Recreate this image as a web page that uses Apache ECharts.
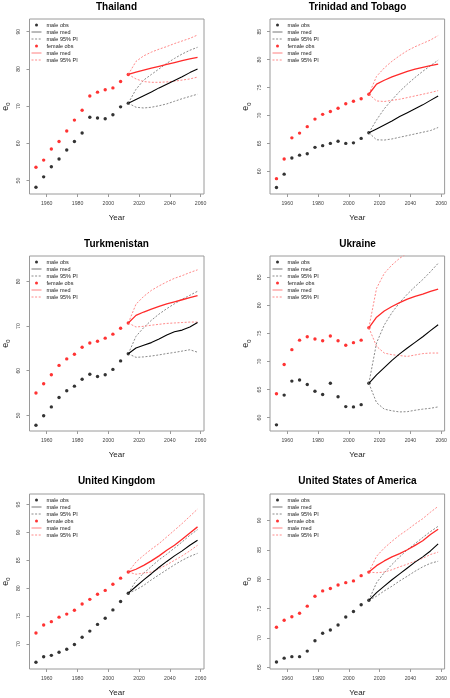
<!DOCTYPE html>
<html><head><meta charset="utf-8">
<script src="https://cdn.jsdelivr.net/npm/echarts@6/dist/echarts.min.js"></script>
<style>html,body{margin:0;padding:0;background:#fff}#c{width:450px;height:698px}</style>
</head><body><div id="c"></div>
<script>
const countries = ['Thailand', 'Trinidad and Tobago', 'Turkmenistan', 'Ukraine', 'United Kingdom', 'United States of America'];
const yearsObs = [1953, 1958, 1963, 1968, 1973, 1978, 1983, 1988, 1993, 1998, 2003, 2008, 2013];
const yearsProj = [2013, 2018, 2023, 2028, 2033, 2038, 2043, 2048, 2053, 2058];
const xTicks = [1960, 1980, 2000, 2020, 2040, 2060];

// Thailand
const thMaleObs = [48.2, 51.0, 53.7, 55.8, 58.2, 60.5, 62.8, 67.0, 66.8, 66.6, 67.7, 69.8, 70.8];
const thFemaleObs = [53.6, 55.5, 58.5, 60.5, 63.3, 66.25, 68.9, 72.7, 73.75, 74.4, 74.9, 76.6, 78.5];
const thMaleMed = [70.8, 71.8, 72.8, 73.8, 74.9, 75.9, 76.9, 77.9, 79.0, 80.0];
const thMaleHi = [70.8, 74.5, 77.0, 78.5, 80.0, 81.5, 82.8, 84.0, 85.0, 85.8];
const thMaleLo = [70.8, 69.7, 69.5, 69.7, 70.1, 70.6, 71.3, 72.0, 72.6, 73.2];
const thFemaleMed = [78.5, 79.1, 79.7, 80.2, 80.7, 81.2, 81.7, 82.2, 82.7, 83.1];
const thFemaleHi = [78.5, 82.0, 83.5, 84.5, 85.3, 86.0, 86.8, 87.5, 88.2, 89.1];
const thFemaleLo = [78.5, 77.3, 76.6, 76.4, 76.4, 76.5, 76.7, 77.0, 77.3, 77.8];
const thYTicks = [50, 60, 70, 80, 90];

// Trinidad and Tobago
const ttMaleObs = [57.1, 59.5, 62.4, 62.9, 63.15, 64.3, 64.6, 65.0, 65.4, 65.0, 65.1, 65.9, 66.9];
const ttFemaleObs = [58.7, 62.2, 66.0, 66.85, 68.0, 69.35, 70.2, 70.7, 71.3, 72.1, 72.55, 73.0, 73.8];
const ttMaleMed = [66.9, 67.6, 68.3, 69.0, 69.8, 70.5, 71.2, 71.9, 72.7, 73.5];
const ttMaleHi = [66.9, 69.2, 71.2, 72.8, 74.3, 75.6, 76.8, 77.9, 78.9, 79.9];
const ttMaleLo = [66.9, 65.65, 65.6, 65.8, 66.1, 66.4, 66.7, 67.0, 67.3, 67.85];
const ttFemaleMed = [73.8, 75.6, 76.3, 76.9, 77.4, 77.9, 78.3, 78.6, 78.9, 79.2];
const ttFemaleHi = [73.8, 77.0, 78.5, 79.7, 80.7, 81.6, 82.3, 82.9, 83.5, 84.3];
const ttFemaleLo = [73.8, 72.6, 72.5, 72.7, 72.9, 73.2, 73.5, 73.8, 74.1, 74.45];
const ttYTicks = [60, 65, 70, 75, 80, 85];

// Turkmenistan
const tmMaleObs = [47.8, 49.9, 51.9, 54.0, 55.5, 56.55, 58.1, 59.2, 58.7, 59.1, 60.3, 62.2, 63.8];
const tmFemaleObs = [55.0, 57.1, 59.1, 61.2, 62.65, 63.7, 65.25, 66.2, 66.6, 67.3, 68.2, 69.5, 70.7];
const tmMaleMed = [63.8, 65.1, 65.7, 66.3, 67.1, 68.0, 68.75, 69.1, 69.8, 70.8];
const tmMaleHi = [63.8, 67.7, 69.65, 71.3, 72.7, 73.9, 75.0, 76.0, 76.9, 77.8];
const tmMaleLo = [63.8, 63.0, 63.1, 63.3, 63.55, 63.85, 64.1, 64.4, 64.7, 64.15];
const tmFemaleMed = [70.7, 72.4, 73.15, 73.8, 74.4, 75.0, 75.45, 75.9, 76.35, 76.8];
const tmFemaleHi = [70.7, 74.9, 76.65, 78.0, 79.0, 79.9, 80.7, 81.3, 82.0, 82.6];
const tmFemaleLo = [70.7, 69.8, 69.95, 70.2, 70.4, 70.6, 70.7, 70.8, 70.9, 70.9];
const tmYTicks = [50, 60, 70, 80];

// Ukraine
const uaMaleObs = [58.7, 64.0, 66.5, 66.7, 65.9, 64.7, 64.1, 66.1, 63.7, 61.95, 61.9, 62.3, 66.1];
const uaFemaleObs = [64.25, 69.45, 72.1, 73.8, 74.4, 74.0, 73.7, 74.55, 73.7, 72.9, 73.35, 73.8, 76.0];
const uaMaleMed = [66.1, 67.6, 68.9, 70.2, 71.35, 72.4, 73.4, 74.4, 75.5, 76.55];
const uaMaleHi = [66.1, 73.3, 76.5, 78.7, 80.5, 82.0, 83.35, 84.6, 86.0, 87.5];
const uaMaleLo = [66.1, 62.65, 61.5, 61.2, 61.0, 61.05, 61.3, 61.5, 61.65, 61.9];
const uaFemaleMed = [76.0, 77.9, 79.0, 79.8, 80.5, 81.1, 81.6, 82.0, 82.5, 82.9];
const uaFemaleHi = [76.0, 83.05, 85.7, 87.2, 88.4, 89.3, 90.2, 91.0, 91.7, 92.3];
const uaFemaleLo = [76.0, 72.7, 71.5, 71.2, 71.05, 70.9, 71.15, 71.4, 71.5, 71.5];
const uaYTicks = [60, 65, 70, 75, 80, 85];

// United Kingdom
const ukMaleObs = [66.7, 67.7, 67.95, 68.5, 69.05, 69.9, 71.2, 72.3, 73.5, 74.6, 76.1, 77.6, 79.1];
const ukFemaleObs = [71.95, 73.4, 74.0, 74.8, 75.35, 76.05, 77.15, 78.0, 78.9, 79.6, 80.7, 81.8, 82.9];
const ukMaleMed = [79.1, 80.3, 81.5, 82.6, 83.75, 84.8, 85.8, 86.7, 87.7, 88.6];
const ukMaleHi = [79.1, 81.3, 82.7, 83.9, 85.1, 86.1, 87.2, 88.3, 89.5, 90.5];
const ukMaleLo = [79.1, 79.7, 80.5, 81.5, 82.4, 83.3, 84.2, 85.0, 85.7, 86.25];
const ukFemaleMed = [82.9, 83.4, 84.1, 84.9, 85.8, 86.8, 87.7, 88.8, 89.9, 91.0];
const ukFemaleHi = [82.9, 84.7, 85.9, 87.0, 88.0, 89.2, 90.4, 91.6, 92.9, 94.2];
const ukFemaleLo = [82.9, 82.5, 82.7, 82.9, 83.5, 84.2, 85.0, 85.8, 86.7, 87.7];
const ukYTicks = [70, 75, 80, 85, 90, 95];

// United States of America
const usMaleObs = [65.9, 66.55, 66.8, 66.8, 67.75, 69.5, 70.8, 71.35, 72.2, 73.55, 74.5, 75.65, 76.4];
const usFemaleObs = [71.8, 73.0, 73.6, 74.2, 75.4, 77.1, 78.0, 78.4, 79.0, 79.4, 79.7, 80.6, 81.2];
const usMaleMed = [76.4, 77.7, 78.8, 79.9, 80.9, 81.9, 82.9, 83.8, 84.8, 86.0];
const usMaleHi = [76.4, 79.4, 81.1, 82.5, 83.8, 85.0, 86.05, 87.1, 88.1, 89.0];
const usMaleLo = [76.4, 77.1, 78.0, 78.8, 79.7, 80.5, 81.35, 82.1, 82.7, 83.05];
const usFemaleMed = [81.2, 82.3, 83.1, 83.8, 84.35, 85.0, 85.75, 86.55, 87.6, 88.5];
const usFemaleHi = [81.2, 83.9, 85.3, 86.45, 87.5, 88.4, 89.4, 90.3, 91.4, 92.4];
const usFemaleLo = [81.2, 81.1, 81.2, 81.6, 82.1, 82.55, 83.05, 83.55, 84.2, 84.6];
const usYTicks = [65, 70, 75, 80, 85, 90];

const panelData = [
  { maleObs: thMaleObs, femaleObs: thFemaleObs, maleMed: thMaleMed, maleHi: thMaleHi, maleLo: thMaleLo, femaleMed: thFemaleMed, femaleHi: thFemaleHi, femaleLo: thFemaleLo, yTicks: thYTicks },
  { maleObs: ttMaleObs, femaleObs: ttFemaleObs, maleMed: ttMaleMed, maleHi: ttMaleHi, maleLo: ttMaleLo, femaleMed: ttFemaleMed, femaleHi: ttFemaleHi, femaleLo: ttFemaleLo, yTicks: ttYTicks },
  { maleObs: tmMaleObs, femaleObs: tmFemaleObs, maleMed: tmMaleMed, maleHi: tmMaleHi, maleLo: tmMaleLo, femaleMed: tmFemaleMed, femaleHi: tmFemaleHi, femaleLo: tmFemaleLo, yTicks: tmYTicks },
  { maleObs: uaMaleObs, femaleObs: uaFemaleObs, maleMed: uaMaleMed, maleHi: uaMaleHi, maleLo: uaMaleLo, femaleMed: uaFemaleMed, femaleHi: uaFemaleHi, femaleLo: uaFemaleLo, yTicks: uaYTicks },
  { maleObs: ukMaleObs, femaleObs: ukFemaleObs, maleMed: ukMaleMed, maleHi: ukMaleHi, maleLo: ukMaleLo, femaleMed: ukFemaleMed, femaleHi: ukFemaleHi, femaleLo: ukFemaleLo, yTicks: ukYTicks },
  { maleObs: usMaleObs, femaleObs: usFemaleObs, maleMed: usMaleMed, maleHi: usMaleHi, maleLo: usMaleLo, femaleMed: usFemaleMed, femaleHi: usFemaleHi, femaleLo: usFemaleLo, yTicks: usYTicks }
];

// layout (positions / ranges), separate from data
const layout = [
  { left: 29, top: 19, yMin: 46.4, yMax: 93.4, titleTop: 2.5 },
  { left: 270, top: 19, yMin: 55.95, yMax: 87.26, titleTop: 2.5 },
  { left: 29, top: 256, yMin: 46.5, yMax: 85.7, titleTop: 239 },
  { left: 270, top: 256, yMin: 57.6, yMax: 88.8, titleTop: 239 },
  { left: 29, top: 494, yMin: 65.5, yMax: 96.9, titleTop: 476 },
  { left: 270, top: 494, yMin: 64.7, yMax: 94.5, titleTop: 476 }
];
const W = 175, H = 175;
const FONT = 'Liberation Sans, Arial, sans-serif';
const C_MALE = '#000000', C_MALE_PI = '#8a8a8a', C_FEM = '#ff0000', C_FEM_MED = '#ff2a2a', C_FEM_PI = '#ff8a8a';

const zip = (xs, ys) => xs.map((x, i) => [x, ys[i]]);

const option = {
  animation: false,
  backgroundColor: '#fff',
  title: [], grid: [], xAxis: [], yAxis: [], legend: [], series: []
};

layout.forEach((L, i) => {
  const d = panelData[i];
  option.title.push({
    text: countries[i], left: L.left + W / 2, top: L.titleTop, textAlign: 'center', padding: 0,
    textStyle: { fontFamily: FONT, fontSize: 10, fontWeight: 'bold', color: '#000' }
  });
  option.grid.push({ left: L.left, top: L.top, width: W, height: H, show: true, borderColor: '#9a9a9a', borderWidth: 1, backgroundColor: 'transparent' });
  option.xAxis.push({
    type: 'value', gridIndex: i, min: 1948.8, max: 2062.2,
    name: 'Year', nameLocation: 'middle', nameGap: 20,
    nameTextStyle: { fontFamily: FONT, fontSize: 8, color: '#222' },
    axisLine: { show: false, onZero: false },
    axisTick: { show: true, inside: false, length: 3, lineStyle: { color: '#9a9a9a' }, customValues: xTicks },
    axisLabel: { fontFamily: FONT, fontSize: 5.2, color: '#444', margin: 7, customValues: xTicks, formatter: v => String(v) },
    splitLine: { show: false }
  });
  option.yAxis.push({
    type: 'value', gridIndex: i, min: L.yMin, max: L.yMax,
    name: '{e|e}{s|0}', nameLocation: 'middle', nameGap: 18, nameRotate: 90,
    nameTextStyle: { fontFamily: FONT, color: '#222', rich: {
      e: { fontFamily: FONT, fontSize: 9, color: '#222', lineHeight: 12, verticalAlign: 'middle' },
      s: { fontFamily: FONT, fontSize: 6, color: '#222', lineHeight: 12, verticalAlign: 'bottom', padding: [4, 0, 0, 0] }
    } },
    axisLine: { show: false, onZero: false },
    axisTick: { show: true, inside: false, length: 3, lineStyle: { color: '#9a9a9a' }, customValues: d.yTicks },
    axisLabel: { fontFamily: FONT, fontSize: 5.2, color: '#444', margin: 8, rotate: 90, customValues: d.yTicks, formatter: v => String(v) },
    splitLine: { show: false }
  });
  option.legend.push({
    left: L.left + 2, top: L.top + 2.5, padding: 0, orient: 'vertical', selectedMode: false,
    itemWidth: 10, itemHeight: 3, itemGap: 0,
    textStyle: { fontFamily: FONT, fontSize: 5.5, lineHeight: 7, color: '#222' },
    formatter: n => n.replace('female med', 'male med').replace('female 95% PI', 'male 95% PI'),
    data: [
      { name: 'male obs' },
      { name: 'male med', itemStyle: { opacity: 0 }, lineStyle: { width: 1, color: '#777' } },
      { name: 'male 95% PI', itemStyle: { opacity: 0 }, lineStyle: { width: 1 } },
      { name: 'female obs' },
      { name: 'female med', itemStyle: { opacity: 0 }, lineStyle: { width: 1, color: '#ff8080' } },
      { name: 'female 95% PI', itemStyle: { opacity: 0 }, lineStyle: { width: 1 } }
    ]
  });
  const line = (name, ys, color, width, type) => ({
    name, type: 'line', xAxisIndex: i, yAxisIndex: i, data: zip(yearsProj, ys),
    symbol: 'none', color, lineStyle: { color, width, type }, clip: true, silent: true
  });
  option.series.push(
    line('male 95% PI', d.maleHi, C_MALE_PI, 1, [2, 1.6]),
    line('male 95% PI', d.maleLo, C_MALE_PI, 1, [2, 1.6]),
    line('female 95% PI', d.femaleHi, C_FEM_PI, 1, [2, 1.6]),
    line('female 95% PI', d.femaleLo, C_FEM_PI, 1, [2, 1.6]),
    line('male med', d.maleMed, C_MALE, 1.1, 'solid'),
    line('female med', d.femaleMed, C_FEM_MED, 1.3, 'solid'),
    { name: 'male obs', type: 'scatter', xAxisIndex: i, yAxisIndex: i, data: zip(yearsObs, d.maleObs), symbolSize: 3.4, color: C_MALE, itemStyle: { color: C_MALE }, silent: true },
    { name: 'female obs', type: 'scatter', xAxisIndex: i, yAxisIndex: i, data: zip(yearsObs, d.femaleObs), symbolSize: 3.4, color: C_FEM, itemStyle: { color: C_FEM }, silent: true }
  );
});

const chart = echarts.init(document.getElementById('c'), null, { renderer: 'canvas' });
chart.setOption(option);
</script>
</body></html>
